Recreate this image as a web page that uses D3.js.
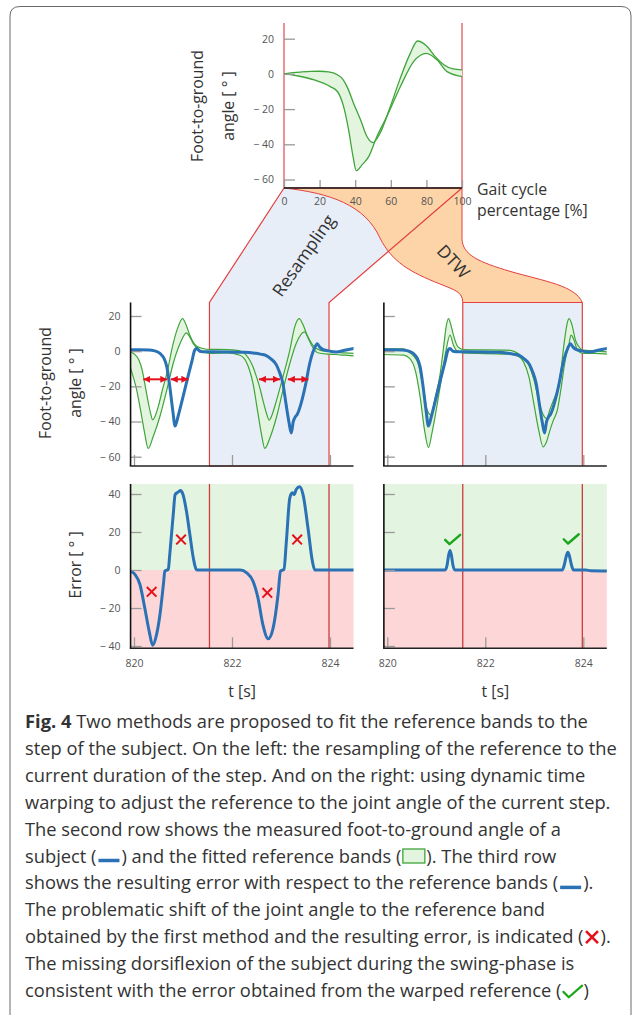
<!DOCTYPE html>
<html>
<head>
<meta charset="utf-8">
<script src="https://cdn.jsdelivr.net/npm/d3@7"></script>
<style>
  html, body { margin: 0; padding: 0; background: #fff; }
  svg { display: block; font-family: "Open Sans", sans-serif; }
  text { white-space: pre; }
</style>
</head>
<body>
<svg id="fig" width="633" height="1015"></svg>
<script>
// ---------- Reference band over one gait cycle (percent, degrees) ----------
const refUpperPct = [0, 5, 10, 15, 20, 25, 30, 33, 36, 39, 43, 46.6, 50, 54, 59.7, 65, 71, 75, 80, 85, 90, 95, 100];
const refUpper    = [0, 0.7, 1.1, 1.4, 1.5, 1.2, -0.5, -3, -8.5, -16.5, -26, -35.6, -39, -33.7, -18.6, -3.4, 11.8, 18.7, 16, 9.8, 5.1, 2.8, 2.3];
const refLowerPct = [0, 8, 17, 26, 30, 33.5, 36.3, 38.8, 40.6, 43.8, 47.6, 52.2, 57.9, 65.4, 72.8, 80, 86, 91.6, 100];
const refLower    = [0, -1.2, -3.4, -7.2, -10, -18.6, -31.8, -47, -55, -51.7, -47, -35.6, -24, -7.2, 7, 11.7, 8, 1.3, -1.5];

// ---------- Measured foot-to-ground angle of the subject (s, degrees) ----------
const subjectT     = [819.93, 820.10, 820.30, 820.42, 820.53, 820.61, 820.67, 820.73, 820.79, 820.84, 820.90, 821.00, 821.10, 821.18, 821.24, 821.28, 821.34, 821.45, 821.60, 821.90, 822.20, 822.43, 822.60, 822.70, 822.80, 822.90, 822.97, 823.04, 823.10, 823.16, 823.21, 823.25, 823.29, 823.33, 823.41, 823.47, 823.52, 823.57, 823.62, 823.68, 823.74, 823.79, 823.85, 823.96, 824.13, 824.30, 824.49];
const subjectAngle = [0.8, 0.8, 0.7, 0.2, -1.3, -4, -8.9, -20, -33.5, -42.6, -37, -26, -14.6, -6, 0.6, 1.5, 0, -0.3, -0.3, -0.4, -0.6, -1.0, -1.8, -2.5, -4.5, -7.5, -12, -18.5, -29.5, -40, -46.5, -40, -37.5, -36, -29.7, -23, -16.5, -9, -3.2, 1.5, 4.2, 2.3, 1.0, 0.2, -0.5, 0.5, 1.5];

// ---------- Reference band resampled to each step ----------
const resUpperT = [819.93, 820.02, 820.10, 820.17, 820.23, 820.29, 820.34, 820.38, 820.43, 820.50, 820.58, 820.67, 820.80, 820.90, 820.99, 821.07, 821.14, 821.21, 821.28, 821.41, 821.54, 821.70, 821.90, 822.10, 822.20, 822.28, 822.36, 822.43, 822.50, 822.57, 822.63, 822.70, 822.76, 822.82, 822.91, 823.04, 823.18, 823.28, 823.37, 823.45, 823.52, 823.65, 823.79, 823.97, 824.10, 824.30, 824.49];
const resUpper  = [-0.5, -2, -5, -11, -20, -29, -35.5, -39, -37, -31, -22, -12.7, 4.4, 13.8, 18.5, 14.5, 9, 5, 2.8, 1.5, 1.0, 1.0, 0.9, 0.5, -0.3, -2, -5, -9, -14.6, -21, -27.8, -35, -39.2, -36, -27.8, -14.6, 0.6, 13.8, 18.5, 15, 10, 3.4, 0.6, -0.2, -0.6, -1.0, -1.3];
const resLowerT = [819.93, 820.054, 820.156, 820.22, 820.29, 820.39, 820.53, 820.67, 820.80, 820.94, 821.07, 821.14, 821.21, 821.34, 821.54, 821.89, 822.16, 822.29, 822.36, 822.43, 822.53, 822.60, 822.67, 822.77, 822.91, 823.04, 823.18, 823.31, 823.48, 823.56, 823.62, 823.75, 823.97, 824.10, 824.30, 824.49];
const resLower  = [-9.8, -22, -37, -47, -55.3, -48.7, -37, -22, -7, 4.3, 10.4, 8, 4.3, 0.6, -1.3, -1.0, -2.3, -6, -11, -18.4, -35.4, -47, -55.3, -49.6, -37.3, -22.2, -7, 4.4, 11.0, 7, 3.5, -0.9, -1.7, -1.9, -2.3, -2.7];

// ---------- Reference band warped to the subject (DTW) ----------
const dtwUpperT = [819.92, 820.33, 820.43, 820.53, 820.64, 820.74, 820.81, 820.89, 820.98, 821.08, 821.15, 821.20, 821.25, 821.29, 821.35, 821.42, 821.49, 821.54, 822.44, 822.61, 822.75, 822.89, 822.99, 823.09, 823.18, 823.25, 823.32, 823.39, 823.47, 823.54, 823.60, 823.67, 823.71, 823.77, 823.84, 823.91, 823.99, 824.22, 824.51];
const dtwUpper  = [1.3, 1.3, -0.4, -2.5, -8, -22, -33, -36.3, -26, -12.7, 2.5, 13.8, 18.5, 15.7, 9.1, 3.4, 1.5, 0.9, 0.6, -0.4, -3.2, -8, -16, -28, -36, -38.3, -33, -28, -22, -12, 2.5, 15.7, 18.5, 14.8, 6.3, 2.5, 0.6, 0.2, -0.4];
const dtwLowerT = [819.92, 820.33, 820.46, 820.57, 820.67, 820.76, 820.84, 820.91, 821.01, 821.11, 821.20, 821.28, 821.35, 821.42, 821.54, 822.44, 822.65, 822.78, 822.89, 822.99, 823.09, 823.18, 823.25, 823.32, 823.39, 823.47, 823.54, 823.62, 823.71, 823.75, 823.81, 823.88, 823.99, 824.22, 824.51];
const dtwLower  = [-1.9, -2.3, -4.2, -10.8, -26, -44.9, -54.8, -46.8, -31.6, -14.6, 0.6, 9.1, 3.4, 0.2, -1.0, -1.7, -2.7, -6.1, -14.6, -29.7, -44.9, -54.4, -51.5, -44.9, -39.2, -33.5, -22.2, -7, 4.4, 9.1, 6.3, 0.6, -1.3, -1.3, -1.7];

// ---------- Error with respect to the reference bands ----------
const errResT = [819.93, 820.02, 820.12, 820.22, 820.31, 820.38, 820.46, 820.53, 820.60, 820.63, 820.70, 820.73, 820.80, 820.84, 820.90, 820.95, 821.00, 821.07, 821.14, 821.21, 821.28, 822.17, 822.30, 822.43, 822.53, 822.63, 822.74, 822.84, 822.94, 822.99, 823.06, 823.11, 823.18, 823.23, 823.27, 823.31, 823.38, 823.45, 823.55, 823.64, 823.69, 824.49];
const errRes  = [-0.6, -2.3, -7.5, -20, -32.3, -39.6, -34, -23.4, -7.6, -0.6, 0.3, 8.2, 29, 39.7, 41, 41.8, 39.7, 31, 18.7, 6.4, 0, 0, -1.5, -5.9, -14.7, -28.7, -36.2, -30.5, -12.9, -0.6, 0.3, 15.2, 38, 40.6, 39.7, 42.4, 43.8, 39.7, 22.2, 4.7, 0, 0];
const errDtwT = [819.93, 821.18, 821.22, 821.25, 821.28, 821.31, 821.34, 821.38, 823.57, 823.61, 823.65, 823.685, 823.72, 823.76, 823.80, 824.05, 824.15, 824.49];
const errDtw  = [0, 0, 2.5, 7.5, 10.3, 7.5, 2.5, 0, 0, 2.5, 7, 9.4, 7, 2.5, 0, 0, -0.4, -0.5];

// ---------- Step boundaries and annotations ----------
const stepT = [821.54, 823.98];
const arrowStartT = [820.19, 820.75, 822.55, 823.14];
const arrowEndT   = [820.68, 821.11, 822.98, 823.56];
const arrowAngle  = -16;
const crossT   = [820.36, 820.96, 822.72, 823.33];
const crossErr = [-11.5, 16, -12, 16];
const checkT   = [821.33, 823.75];
const checkErr = [15, 15.3];

// ---------- Ticks ----------
const pctTicks   = [0, 20, 40, 60, 80, 100];
const angleTicks = [-60, -40, -20, 0, 20];
const timeTicks  = [820, 822, 824];
const errTicks   = [-40, -20, 0, 20, 40];
const tRange     = [819.93, 824.48];

// ---------- Caption ----------
const captionLines = [
  [{ strong: "Fig. 4" }, " Two methods are proposed to fit the reference bands to the"],
  ["step of the subject. On the left: the resampling of the reference to the"],
  ["current duration of the step. And on the right: using dynamic time"],
  ["warping to adjust the reference to the joint angle of the current step."],
  ["The second row shows the measured foot-to-ground angle of a"],
  ["subject (", { icon: "line" }, ") and the fitted reference bands (", { icon: "box" }, "). The third row"],
  ["shows the resulting error with respect to the reference bands (", { icon: "line" }, ")."],
  ["The problematic shift of the joint angle to the reference band"],
  ["obtained by the first method and the resulting error, is indicated (", { icon: "cross" }, ")."],
  ["The missing dorsiflexion of the subject during the swing-phase is"],
  ["consistent with the error obtained from the warped reference (", { icon: "check" }, ")"]
];

// ---------- Styling ----------
const FONT = '"Open Sans", sans-serif';
const BLUE = "#2a72b5", GREEN_LINE = "#3fa43a", GREEN_FILL = "#e4f5df";
const RED = "#e4101c", PANEL_BLUE = "#e8eef8", ORANGE = "#fcd4a8";
const TEXT = "#333", TICK_TEXT = "#555", TICK_LINE = "#9a9a9a";
const TICK_SIZE = "10.5px";

const svg = d3.select("#fig");

function fitSize(str, weight, target) {
  const t = svg.append("text").style("font-family", FONT).style("font-size", "100px")
    .style("font-weight", weight).text(str);
  const w = t.node().getComputedTextLength();
  t.remove();
  return 100 * target / w;
}

// ---------- Scales ----------
const xPct   = d3.scaleLinear().domain([0, 100]).range([284, 462]);
const yTop   = d3.scaleLinear().domain([-60, 20]).range([179.5, 38.7]);
const xLeft  = d3.scaleLinear().domain([820, 824]).range([134, 330]);
const xRight = d3.scaleLinear().domain([820, 824]).range([387.3, 583.3]);
const yMid   = d3.scaleLinear().domain([-60, 20]).range([456.7, 316]);
const yErr   = d3.scaleLinear().domain([-40, 40]).range([646, 494]);

const topAxisY = 188, topLineTop = 23;
const midTop = 302.5, midBottom = 466;
const errTop = yErr(45.3), errBottom = yErr(-41.2);

const fmt = d => d < 0 ? "\u2212 " + Math.abs(d) : String(d);

// ---------- Frame ----------
svg.append("path")
  .attr("d", "M10,1040V16Q10,6.5 20,6.5H621Q631,6.5 631,16V1040")
  .attr("fill", "none").attr("stroke", "#6b6b6b").attr("stroke-width", 1);

// ---------- Transition shapes between the reference and the fitted steps ----------
const gLink = svg.append("g");
const resPoly = [
  [xPct(0), topAxisY], [xLeft(stepT[0]), midTop], [xLeft(stepT[0]), midBottom],
  [xLeft(stepT[1]), midBottom], [xLeft(stepT[1]), midTop], [xPct(100), topAxisY]
];
gLink.append("path").attr("d", d3.line()(resPoly) + "Z").attr("fill", PANEL_BLUE);
gLink.append("rect")
  .attr("x", xRight(stepT[0])).attr("y", midTop)
  .attr("width", xRight(stepT[1]) - xRight(stepT[0])).attr("height", midBottom - midTop)
  .attr("fill", PANEL_BLUE);

// warped region: S-curve from 0 % down to the first step boundary, then back up to 100 %
{
  const p0 = [xPct(0), topAxisY], p1 = [xRight(stepT[0]), midTop];
  const p2 = [xRight(stepT[1]), midTop], p3 = [xPct(100), topAxisY];
  const dx = p1[0] - p0[0], dy = p1[1] - p0[1];
  const a = (fx, fy) => [p0[0] + fx * dx, p0[1] + fy * dy];
  const ex = p2[0] - p3[0], ey = p2[1] - p3[1];
  const b = (fx, fy) => [p3[0] + fx * ex, p3[1] + fy * ey];
  const p = d3.path();
  p.moveTo(...p0);
  p.bezierCurveTo(...a(0.257, 0.044), ...a(0.453, 0.148), ...a(0.537, 0.437));
  p.bezierCurveTo(...a(0.604, 0.646), ...a(0.705, 0.734), ...a(0.872, 0.838));
  p.bezierCurveTo(...a(0.956, 0.891), ...a(1, 0.908), ...p1);
  p.lineTo(...p2);
  p.bezierCurveTo(...b(0.939, 0.851), ...b(0.69, 0.816), ...b(0.399, 0.728));
  p.bezierCurveTo(...b(0.15, 0.649), ...b(0, 0.588), ...b(0, 0.439));
  p.lineTo(...p3);
  p.closePath();
  gLink.append("path").attr("d", p.toString()).attr("fill", ORANGE)
    .attr("stroke", "#e2403f").attr("stroke-width", 1);
}
gLink.append("path").attr("d", d3.line()(resPoly))
  .attr("fill", "none").attr("stroke", "#e2403f").attr("stroke-width", 1.2);
[stepT[0], stepT[1]].forEach(t => {
  gLink.append("line").attr("x1", xRight(t)).attr("x2", xRight(t))
    .attr("y1", midTop).attr("y2", midBottom)
    .attr("stroke", "#e2403f").attr("stroke-width", 1.2);
});

// method labels on the transition shapes
const methodSize = fitSize("Resampling", 400, 95);
svg.append("text").attr("transform", "translate(303,255) rotate(-55)")
  .attr("text-anchor", "middle").attr("dominant-baseline", "central")
  .style("font-family", FONT).style("font-size", methodSize + "px").attr("fill", TEXT)
  .text("Resampling");
svg.append("text").attr("transform", "translate(454,261) rotate(47)")
  .attr("text-anchor", "middle").attr("dominant-baseline", "central")
  .style("font-family", FONT).style("font-size", methodSize + "px").attr("fill", TEXT)
  .text("DTW");

// ---------- Helpers ----------
const curve = d3.line().curve(d3.curveMonotoneX);

function drawBand(g, xs, ys, upT, up, loT, lo, width) {
  const upPts = upT.map((t, i) => [xs(t), ys(up[i])]);
  const loPts = loT.map((t, i) => [xs(t), ys(lo[i])]);
  const fillD = curve(upPts) + curve(loPts.slice().reverse()).replace(/^M/, "L") + "Z";
  g.append("path").attr("d", fillD).attr("fill", GREEN_FILL);
  [upPts, loPts].forEach(pts => g.append("path").attr("d", curve(pts))
    .attr("fill", "none").attr("stroke", GREEN_LINE).attr("stroke-width", width));
}

function drawSeries(g, xs, ys, ts, vs) {
  g.append("path").attr("d", curve(ts.map((t, i) => [xs(t), ys(vs[i])])))
    .attr("fill", "none").attr("stroke", BLUE).attr("stroke-width", 3)
    .attr("stroke-linejoin", "round").attr("stroke-linecap", "round");
}

function styleAxis(a) {
  a.select(".domain").remove();
  a.selectAll("line").attr("stroke", TICK_LINE).attr("stroke-width", 1.3);
  a.selectAll("text").attr("fill", TICK_TEXT).style("font-family", FONT).style("font-size", TICK_SIZE);
}

function yAxisAt(x, scale, ticks, labels) {
  const ax = d3.axisLeft(scale).tickValues(ticks).tickSize(-11).tickPadding(10)
    .tickFormat(labels ? fmt : "");
  styleAxis(svg.append("g").attr("transform", `translate(${x},0)`).call(ax));
}

function xAxisAt(y, scale, ticks, labels, size, pad) {
  const ax = d3.axisBottom(scale).tickValues(ticks).tickSize(-size).tickPadding(pad)
    .tickFormat(labels ? d3.format("d") : "");
  styleAxis(svg.append("g").attr("transform", `translate(0,${y})`).call(ax));
}

function clipFor(id, xs) {
  svg.append("clipPath").attr("id", id).append("rect")
    .attr("x", xs(tRange[0])).attr("y", 280)
    .attr("width", xs(tRange[1]) - xs(tRange[0])).attr("height", 400);
  return svg.append("g").attr("clip-path", `url(#${id})`);
}

function axisFrame(xs, yA, yB) {
  svg.append("line").attr("x1", xs(tRange[0])).attr("x2", xs(tRange[0]))
    .attr("y1", yA).attr("y2", yB).attr("stroke", "#111").attr("stroke-width", 1.6);
  svg.append("line").attr("x1", xs(tRange[0]) - 0.8).attr("x2", xs(tRange[1]))
    .attr("y1", yB).attr("y2", yB).attr("stroke", "#222").attr("stroke-width", 1.6);
}

// ---------- Top: reference band over the gait cycle ----------
[0, 100].forEach(p => {
  svg.append("line").attr("x1", xPct(p)).attr("x2", xPct(p))
    .attr("y1", topLineTop).attr("y2", topAxisY)
    .attr("stroke", "#e9777a").attr("stroke-width", 1.6);
});
drawBand(svg.append("g"), xPct, yTop, refUpperPct, refUpper, refLowerPct, refLower, 1.3);
yAxisAt(xPct(0), yTop, angleTicks, true);
xAxisAt(topAxisY, xPct, pctTicks, true, 8, 10);
svg.append("line").attr("x1", xPct(0)).attr("x2", xPct(100))
  .attr("y1", topAxisY).attr("y2", topAxisY).attr("stroke", "#4a3131").attr("stroke-width", 2.2);

// ---------- Middle row: subject angle with fitted bands ----------
const gML = clipFor("clipML", xLeft);
const gMR = clipFor("clipMR", xRight);
drawBand(gML, xLeft, yMid, resUpperT, resUpper, resLowerT, resLower, 1.2);
drawBand(gMR, xRight, yMid, dtwUpperT, dtwUpper, dtwLowerT, dtwLower, 1.2);
drawSeries(gML, xLeft, yMid, subjectT, subjectAngle);
drawSeries(gMR, xRight, yMid, subjectT, subjectAngle);

yAxisAt(xLeft(tRange[0]), yMid, angleTicks, true);
yAxisAt(xRight(tRange[0]), yMid, angleTicks, false);
xAxisAt(midBottom, xLeft, timeTicks, false, 11, 3);
xAxisAt(midBottom, xRight, timeTicks, false, 11, 3);
axisFrame(xLeft, midTop, midBottom);
axisFrame(xRight, midTop, midBottom);

// shift indicators between band and subject
svg.append("defs").append("marker").attr("id", "arrowHead")
  .attr("viewBox", "0 0 10 10").attr("refX", 10).attr("refY", 5)
  .attr("markerWidth", 7).attr("markerHeight", 7).attr("markerUnits", "userSpaceOnUse")
  .attr("orient", "auto-start-reverse")
  .append("path").attr("d", "M0,0L10,5L0,10Z").attr("fill", RED);
arrowStartT.forEach((t, i) => {
  svg.append("line").attr("x1", xLeft(t)).attr("x2", xLeft(arrowEndT[i]))
    .attr("y1", yMid(arrowAngle)).attr("y2", yMid(arrowAngle))
    .attr("stroke", RED).attr("stroke-width", 2)
    .attr("marker-start", "url(#arrowHead)").attr("marker-end", "url(#arrowHead)");
});

// ---------- Bottom row: error ----------
[xLeft, xRight].forEach(xs => {
  svg.append("rect").attr("x", xs(tRange[0])).attr("y", errTop)
    .attr("width", xs(tRange[1]) - xs(tRange[0])).attr("height", yErr(0) - errTop)
    .attr("fill", "#e3f5e0");
  svg.append("rect").attr("x", xs(tRange[0])).attr("y", yErr(0))
    .attr("width", xs(tRange[1]) - xs(tRange[0])).attr("height", errBottom - yErr(0))
    .attr("fill", "#fdd7d7");
  stepT.forEach(t => svg.append("line").attr("x1", xs(t)).attr("x2", xs(t))
    .attr("y1", errTop).attr("y2", errBottom)
    .attr("stroke", "#cf3a3c").attr("stroke-width", 1.3));
});
const gEL = clipFor("clipEL", xLeft);
const gER = clipFor("clipER", xRight);
drawSeries(gEL, xLeft, yErr, errResT, errRes);
drawSeries(gER, xRight, yErr, errDtwT, errDtw);

yAxisAt(xLeft(tRange[0]), yErr, errTicks, true);
yAxisAt(xRight(tRange[0]), yErr, errTicks, false);
xAxisAt(errBottom, xLeft, timeTicks, true, 11, 11);
xAxisAt(errBottom, xRight, timeTicks, true, 11, 11);
axisFrame(xLeft, errTop, errBottom);
axisFrame(xRight, errTop, errBottom);

function drawCross(g, cx, cy, r, w) {
  g.append("path").attr("d", `M${cx - r},${cy - r}L${cx + r},${cy + r}M${cx - r},${cy + r}L${cx + r},${cy - r}`)
    .attr("stroke", RED).attr("stroke-width", w).attr("fill", "none");
}
function drawCheck(g, cx, cy, s, w) {
  g.append("path").attr("d", `M${cx - 7.3 * s},${cy - 1.7 * s}L${cx - 3 * s},${cy + 2.6 * s}L${cx + 7.7 * s},${cy - 6.7 * s}`)
    .attr("stroke", "#1aa61a").attr("stroke-width", w).attr("fill", "none")
    .attr("stroke-linecap", "round").attr("stroke-linejoin", "round");
}
crossT.forEach((t, i) => drawCross(svg, xLeft(t), yErr(crossErr[i]), 4.8, 2));
checkT.forEach((t, i) => drawCheck(svg, xRight(t), yErr(checkErr[i]), 1, 2.4));

// ---------- Axis titles ----------
const labelSize = fitSize("Foot-to-ground", 400, 112);
function rotLabel(x, y, str) {
  svg.append("text").attr("transform", `translate(${x},${y}) rotate(-90)`)
    .attr("text-anchor", "middle").attr("dominant-baseline", "central")
    .style("font-family", FONT).style("font-size", labelSize + "px").attr("fill", TEXT).text(str);
}
rotLabel(197, 106, "Foot-to-ground");
rotLabel(228, 106, "angle [ \u00b0 ]");
rotLabel(45, 383, "Foot-to-ground");
rotLabel(75, 383, "angle [ \u00b0 ]");
rotLabel(75, 565, "Error [ \u00b0 ]");

[["Gait cycle", 189], ["percentage [%]", 210]].forEach(([s, y]) => {
  svg.append("text").attr("x", 477).attr("y", y).attr("dominant-baseline", "central")
    .style("font-family", FONT).style("font-size", labelSize + "px").attr("fill", TEXT).text(s);
});
[xLeft, xRight].forEach(xs => {
  svg.append("text").attr("x", (xs(tRange[0]) + xs(tRange[1])) / 2).attr("y", 691)
    .attr("text-anchor", "middle").attr("dominant-baseline", "central")
    .style("font-family", FONT).style("font-size", labelSize + "px").attr("fill", TEXT).text("t [s]");
});

// ---------- Caption ----------
const capSize = fitSize(captionLines[1][0], 400, 592);
const capLeft = 25, capBase = 728, capPitch = 26.9;
const gCap = svg.append("g").style("font-family", FONT).style("font-size", capSize + "px").attr("fill", TEXT);
captionLines.forEach((parts, li) => {
  const y = capBase + li * capPitch;
  let x = capLeft;
  parts.forEach(part => {
    if (typeof part === "string" || part.strong !== undefined) {
      const isBold = typeof part !== "string";
      const t = gCap.append("text").attr("x", x).attr("y", y)
        .style("font-weight", isBold ? 700 : 400).text(isBold ? part.strong : part);
      x += t.node().getComputedTextLength();
    } else if (part.icon === "line") {
      gCap.append("line").attr("x1", x + 2).attr("x2", x + 23).attr("y1", y - 2).attr("y2", y - 2)
        .attr("stroke", BLUE).attr("stroke-width", 3.5);
      x += 25;
    } else if (part.icon === "box") {
      gCap.append("rect").attr("x", x + 1.5).attr("y", y - 13.5).attr("width", 22).attr("height", 14)
        .attr("fill", GREEN_FILL).attr("stroke", GREEN_LINE).attr("stroke-width", 1.3);
      x += 25;
    } else if (part.icon === "cross") {
      drawCross(gCap, x + 8.5, y - 6, 6, 2.6);
      x += 17;
    } else if (part.icon === "check") {
      drawCheck(gCap, x + 11, y - 3, 1.25, 2.2);
      x += 22;
    }
  });
});
</script>
</body>
</html>
